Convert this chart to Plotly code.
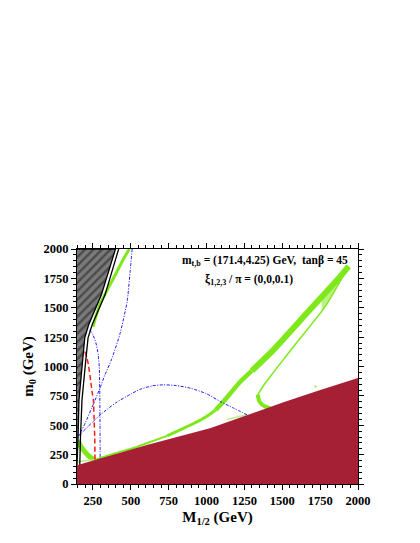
import plotly.graph_objects as go

# ---- data (M_1/2, m_0 in GeV) ----
stau_lsp_M = [145, 606, 1023, 1250, 1508, 1751, 2000]
stau_lsp_m0 = [160, 332, 475, 580, 696, 801, 903]

nosewsb_M = [145, 399, 306, 222, 196, 181, 158, 152, 147, 145]
nosewsb_m0 = [2000, 2000, 1610, 1355, 1244, 1014, 716, 400, 200, 160]

black_outer_M = [420, 330, 245, 218, 200, 178, 168, 163]
black_outer_m0 = [2000, 1610, 1355, 1244, 1014, 716, 400, 150]

green_focus_M = [251, 295, 340, 387, 443, 490]
green_focus_m0 = [1340, 1525, 1640, 1753, 1894, 2000]

green_bulk_M = [152, 170, 200, 230, 262]
green_bulk_m0 = [370, 320, 270, 230, 205]

green_edge_M = [145, 200, 275]
green_edge_m0 = [190, 197, 206]

green_low_M = [262, 300, 400, 519, 606, 740]
green_low_m0 = [205, 221, 262, 307, 347, 410]
green_mid_M = [740, 850, 915, 1000, 1060]
green_mid_m0 = [410, 475, 515, 575, 630]
green_rise_M = [1060, 1100, 1160, 1221, 1300]
green_rise_m0 = [630, 685, 775, 868, 965]
green_top_M = [1300, 1442, 1663, 1883, 1938]
green_top_m0 = [965, 1142, 1455, 1767, 1852]

hook_M = [1338, 1350, 1387, 1420]
hook_m0 = [760, 700, 659, 645]
hook_line_M = [1338, 1380, 1442, 1550, 1663, 1783, 1938]
hook_line_m0 = [760, 845, 950, 1130, 1311, 1509, 1852]
wedge_M = [1760, 1938, 1760]
wedge_m0 = [1470, 1852, 1570]

sliver_M = [1133, 1266]
sliver_m0 = [548, 590]

red_M = [196, 210, 222, 235, 245, 253, 258, 262, 264]
red_m0 = [1127, 1080, 1000, 880, 780, 716, 550, 400, 204]

blue_loop_M = [509, 495, 476, 427, 372, 330, 295, 240, 200, 160, 155,
               250, 300, 400, 500, 560, 640, 714, 800, 893, 1000, 1092, 1180, 1268]
blue_loop_m0 = [2000, 1800, 1553, 1270, 1057, 930, 810, 640, 520, 420, 410,
                530, 590, 690, 765, 805, 835, 844, 838, 816, 768, 701, 645, 588]

blue_vert_M = [229, 250, 270, 285, 292, 295, 297, 298]
blue_vert_m0 = [1312, 1270, 1200, 1100, 1000, 800, 500, 205]

GREEN = "#7ee81a"
BLUE = "#1a1aff"
SERIF = "Liberation Serif"

fig = go.Figure()


def line(x, y, color, width, dash="solid", shape="spline"):
    fig.add_trace(go.Scatter(x=x, y=y, mode="lines",
                             line=dict(color=color, width=width, dash=dash,
                                       shape=shape, smoothing=0.6),
                             hoverinfo="skip", showlegend=False))


# green (relic density) strips
line(green_focus_M, green_focus_m0, GREEN, 3)
line(green_bulk_M, green_bulk_m0, GREEN, 5)
line(green_edge_M, green_edge_m0, "#b5f07a", 1.5)
line(green_low_M, green_low_m0, GREEN, 2)
line(green_mid_M, green_mid_m0, GREEN, 3)
line(green_rise_M, green_rise_m0, GREEN, 4.5)
line(green_top_M, green_top_m0, GREEN, 6)
fig.add_trace(go.Scatter(x=wedge_M, y=wedge_m0, mode="lines", fill="toself",
                         fillcolor="rgba(126,232,26,0.55)", line=dict(width=0),
                         hoverinfo="skip", showlegend=False))
line(hook_line_M, hook_line_m0, GREEN, 1.5)
line(hook_M, hook_m0, GREEN, 4)
line(sliver_M, sliver_m0, "#b5f07a", 1.5)
fig.add_trace(go.Scatter(x=[1720], y=[829], mode="markers",
                         marker=dict(color=GREEN, size=2),
                         hoverinfo="skip", showlegend=False))

# blue dash-dot and red dashed contours
line(blue_loop_M, blue_loop_m0, BLUE, 1, "3px,1.5px,1px,1.5px")
line(blue_vert_M, blue_vert_m0, BLUE, 1, "3px,1.5px,1px,1.5px")
line(red_M, red_m0, "#ff1a1a", 1.5, "5px,3px")

# black boundary lines + hatched excluded region
line(black_outer_M, black_outer_m0, "black", 1.3, shape="linear")
fig.add_trace(go.Scatter(x=nosewsb_M, y=nosewsb_m0, mode="lines", fill="toself",
                         fillcolor="#7a7a7a",
                         fillpattern=dict(shape="/", bgcolor="#7a7a7a",
                                          fgcolor="#1a1a1a", size=6, solidity=0.4),
                         line=dict(color="black", width=1.3),
                         hoverinfo="skip", showlegend=False))

# stau LSP region
fig.add_trace(go.Scatter(x=stau_lsp_M + [2000, 145], y=stau_lsp_m0 + [0, 0],
                         mode="lines", fill="toself", fillcolor="#a51f35",
                         line=dict(width=0), hoverinfo="skip", showlegend=False))

fig.add_annotation(
    x=(180 - 77.3) / 280.4, xref="paper", y=(484 - 261.7) / 234.7, yref="paper",
    text="m<sub>t,b</sub> = (171.4,4.25) GeV,  tanβ = 45",
    showarrow=False, xanchor="left", yanchor="middle",
    font=dict(family=SERIF, size=11.5, color="black", weight="bold"),
)
fig.add_annotation(
    x=(203 - 77.3) / 280.4, xref="paper", y=(484 - 280) / 234.7, yref="paper",
    text="ξ<sub>1,2,3</sub> / π = (0,0,0.1)",
    showarrow=False, xanchor="left", yanchor="middle",
    font=dict(family=SERIF, size=11.5, color="black", weight="bold"),
)

axis_common = dict(
    showline=True, linecolor="black", linewidth=1,
    mirror="ticks", ticks="outside", ticklen=5, tickwidth=1, tickcolor="black",
    showgrid=False, zeroline=False,
    tickfont=dict(family=SERIF, size=12.5, color="black", weight="bold"),
    minor=dict(ticks="outside", ticklen=3, tickwidth=1, tickcolor="black",
               dtick=50, showgrid=False),
)

fig.update_xaxes(
    range=[145, 2000], tick0=0, dtick=250,
    title=dict(text="M<sub>1/2</sub> (GeV)", standoff=4,
               font=dict(family=SERIF, size=15, color="black", weight="bold")),
    **axis_common,
)
fig.update_yaxes(
    range=[0, 2000], tick0=0, dtick=250,
    title=dict(text="m<sub>0</sub> (GeV)", standoff=6,
               font=dict(family=SERIF, size=15, color="black", weight="bold")),
    **axis_common,
)

fig.update_layout(
    width=420, height=543,
    margin=dict(l=69, r=70, t=241, b=67),
    plot_bgcolor="white", paper_bgcolor="white",
    showlegend=False,
)

fig.write_html("out.html")
